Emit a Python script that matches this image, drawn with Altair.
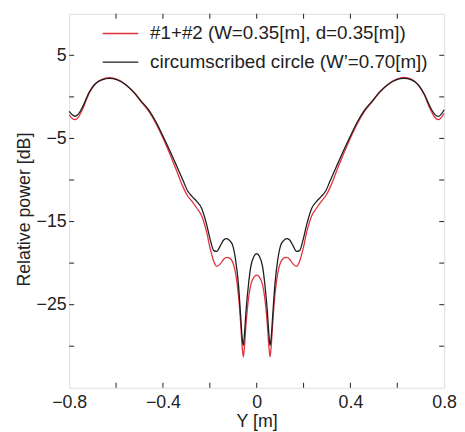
import altair as alt
import pandas as pd

# ---- data ----
X = [-0.800, -0.787, -0.775, -0.760, -0.740, -0.715, -0.690, -0.660, -0.628, -0.595,
     -0.560, -0.525, -0.490, -0.460, -0.430, -0.400, -0.370, -0.340, -0.315, -0.295,
     -0.275, -0.255, -0.235, -0.215, -0.198, -0.183, -0.170, -0.155, -0.140, -0.128,
     -0.115, -0.102, -0.090, -0.078, -0.068, -0.062, -0.057, -0.052, -0.045, -0.035,
     -0.025, -0.012, 0.000,
     0.012, 0.025, 0.035, 0.045, 0.052, 0.057, 0.062, 0.068, 0.078, 0.090,
     0.102, 0.115, 0.128, 0.140, 0.155, 0.170, 0.183, 0.198, 0.215, 0.235,
     0.255, 0.275, 0.295, 0.315, 0.340, 0.370, 0.400, 0.430, 0.460, 0.490,
     0.525, 0.560, 0.595, 0.628, 0.660, 0.690, 0.715, 0.740, 0.760, 0.775,
     0.787, 0.800]

circle_db = [-1.75, -2.15, -2.33, -2.05, -1.05, 0.55, 1.55, 2.05, 2.22, 2.05,
             1.50, 0.60, -0.60, -1.60, -3.00, -4.70, -6.50, -8.40, -10.0, -11.3,
             -12.0, -12.6, -13.4, -15.2, -17.2, -18.5, -18.6, -17.9, -17.2, -17.05,
             -17.3, -17.9, -19.6, -22.5, -26.5, -29.0, -29.9, -28.5, -25.6, -22.6,
             -20.4, -19.2, -18.85,
             -19.2, -20.4, -22.6, -25.6, -28.5, -29.9, -29.0, -26.5, -22.5, -19.6,
             -17.9, -17.3, -17.05, -17.2, -17.9, -18.6, -18.5, -17.2, -15.2, -13.4,
             -12.6, -12.0, -11.3, -10.0, -8.40, -6.50, -4.70, -3.00, -1.60, -0.60,
             0.60, 1.50, 2.05, 2.22, 2.05, 1.45, 0.35, -1.20, -2.10, -2.35,
             -2.10, -1.55]

pair_db = [-2.15, -2.60, -2.75, -2.40, -1.30, 0.40, 1.50, 2.10, 2.30, 2.10,
           1.50, 0.55, -0.70, -1.75, -3.20, -4.95, -6.90, -9.00, -10.8, -11.9,
           -12.6, -13.4, -14.3, -16.1, -18.3, -19.8, -20.4, -20.1, -19.5, -19.3,
           -19.4, -19.9, -21.2, -23.8, -27.4, -30.0, -31.3, -30.0, -27.2, -24.3,
           -22.6, -21.7, -21.45,
           -21.7, -22.6, -24.3, -27.2, -30.0, -31.3, -30.0, -27.4, -23.8, -21.2,
           -19.9, -19.4, -19.3, -19.5, -20.1, -20.4, -19.8, -18.3, -16.1, -14.3,
           -13.4, -12.6, -11.9, -10.8, -9.00, -6.90, -4.95, -3.20, -1.75, -0.70,
           0.55, 1.50, 2.10, 2.35, 2.15, 1.40, 0.25, -1.45, -2.45, -2.75,
           -2.50, -2.00]

series_names = ["#1+#2 (W=0.35[m], d=0.35[m])", "circumscribed circle (W\u2019=0.70[m])"]
series_colors = ["#e0323c", "#1e1e1e"]

x_tick_values = [-0.6, -0.4, -0.2, 0.0, 0.2, 0.4, 0.6]
y_tick_values = [5, 0, -5, -10, -15, -20, -25, -30]
x_label_values = [-0.8, -0.4, 0, 0.4, 0.8]
y_label_values = [5, -5, -15, -25]

# ---- build tables ----
rows = []
for i, (x, v) in enumerate(zip(X, pair_db)):
    rows.append({"X": x, "P": v, "series": series_names[0], "o": i})
for i, (x, v) in enumerate(zip(X, circle_db)):
    rows.append({"X": x, "P": v, "series": series_names[1], "o": i})
df = pd.DataFrame(rows)
xt = pd.DataFrame({"X": x_tick_values})
yt = pd.DataFrame({"P": y_tick_values})

W, H = 380, 379
FONT = "Liberation Sans"

xscale = alt.Scale(domain=[-0.8, 0.8], nice=False, zero=False)
yscale = alt.Scale(domain=[-35, 10], nice=False, zero=False)

xaxis = alt.Axis(values=x_label_values, format="~g", title="Y [m]", grid=False,
                 ticks=False, tickSize=0, domain=False, labelFlush=False,
                 labelFontSize=18, titleFontSize=18,
                 labelFont=FONT, titleFont=FONT, titleFontWeight="normal",
                 labelPadding=6, titlePadding=1, labelColor="#222", titleColor="#222")
yaxis = alt.Axis(values=y_label_values, format="d", title="Relative power [dB]", grid=False,
                 ticks=False, tickSize=0, domain=False, labelFlush=False,
                 labelFontSize=18, titleFontSize=18,
                 labelFont=FONT, titleFont=FONT, titleFontWeight="normal",
                 labelPadding=3, titlePadding=3, titleY=198,
                 labelColor="#222", titleColor="#222")

lines = alt.Chart(df).mark_line(strokeWidth=1.3, interpolate="monotone").encode(
    x=alt.X("X:Q", scale=xscale, axis=xaxis),
    y=alt.Y("P:Q", scale=yscale, axis=yaxis),
    color=alt.Color("series:N",
                    scale=alt.Scale(domain=series_names, range=series_colors),
                    legend=alt.Legend(orient="none", legendX=33, legendY=1, title=None,
                                      symbolType="stroke", symbolSize=1300,
                                      symbolStrokeWidth=1.3, labelFontSize=19,
                                      labelFont=FONT, labelOffset=11, rowPadding=-5,
                                      padding=0, labelColor="#222", labelLimit=400)),
    order="o:Q",
)

tick_style = dict(color="#333", strokeWidth=1.1)
xb = alt.Chart(xt).mark_rule(**tick_style).encode(
    x=alt.X("X:Q", scale=xscale), y=alt.value(H), y2=alt.value(H - 5))
xtop = alt.Chart(xt).mark_rule(**tick_style).encode(
    x=alt.X("X:Q", scale=xscale), y=alt.value(0), y2=alt.value(5))
yl = alt.Chart(yt).mark_rule(**tick_style).encode(
    y=alt.Y("P:Q", scale=yscale), x=alt.value(0), x2=alt.value(5))
yr = alt.Chart(yt).mark_rule(**tick_style).encode(
    y=alt.Y("P:Q", scale=yscale), x=alt.value(W - 5), x2=alt.value(W))

chart = alt.layer(lines, xb, xtop, yl, yr).properties(
    width=W, height=H,
    padding={"left": 7, "top": 2, "right": 0, "bottom": 0},
).configure_view(stroke="#333", strokeWidth=1.2).configure(background="white")

chart.save("out.html", embed_options={"renderer": "svg", "actions": False})
